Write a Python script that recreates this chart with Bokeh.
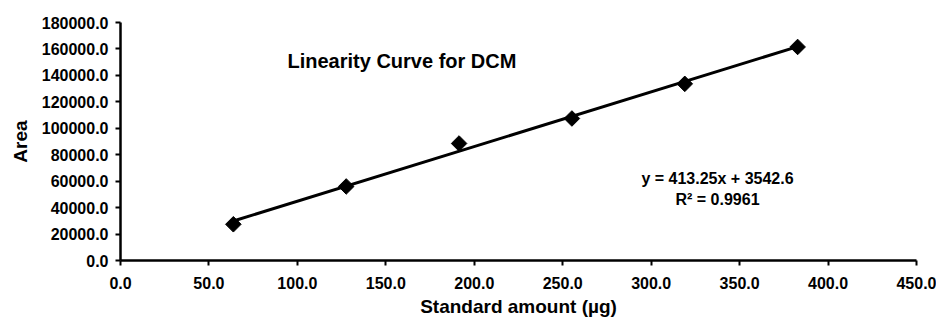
import numpy as np
from bokeh.plotting import figure
from bokeh.models import Range1d, SingleIntervalTicker, NumeralTickFormatter, Label, ColumnDataSource
from bokeh.embed import file_html
from bokeh.resources import INLINE

# ---- data ----
standard_amount = [63.8, 127.6, 191.4, 255.2, 319.0, 382.8]
area = [27400, 56000, 88500, 107400, 133600, 161500]
slope = 413.25
intercept = 3542.6
equation_text = "y = 413.25x + 3542.6"
r2_text = "R² = 0.9961"
title_text = "Linearity Curve for DCM"
x_title = "Standard amount (µg)"
y_title = "Area"

FONT = "Liberation Sans"

p = figure(width=936, height=320, output_backend="svg", toolbar_location=None,
           x_range=Range1d(0, 450), y_range=Range1d(0, 180000),
           min_border_left=120, min_border_right=20, min_border_top=22, min_border_bottom=60)
p.outline_line_color = None
p.xgrid.visible = False
p.ygrid.visible = False
p.background_fill_color = "white"
p.border_fill_color = "white"

# trendline over the data range
tx = [min(standard_amount), max(standard_amount)]
ty = [slope * v + intercept for v in tx]
p.line(tx, ty, line_color="black", line_width=3)

src = ColumnDataSource(dict(x=standard_amount, y=area))
p.scatter("x", "y", source=src, marker="square", size=11, angle=np.pi / 4,
          fill_color="black", line_color="black")

for ax in (p.xaxis[0], p.yaxis[0]):
    ax.axis_line_width = 2.5
    ax.axis_line_color = "black"
    ax.major_tick_line_width = 2
    ax.major_tick_line_color = "black"
    ax.major_tick_in = 0
    ax.major_tick_out = 5
    ax.minor_tick_line_color = None
    ax.major_label_text_font = FONT
    ax.major_label_text_font_style = "bold"
    ax.major_label_text_font_size = "16px"
    ax.major_label_text_color = "black"
    ax.axis_label_text_font = FONT
    ax.axis_label_text_font_style = "bold"
    ax.axis_label_text_font_size = "19px"
    ax.axis_label_text_color = "black"
    ax.formatter = NumeralTickFormatter(format="0.0")

p.xaxis.ticker = SingleIntervalTicker(interval=50)
p.yaxis.ticker = SingleIntervalTicker(interval=20000)
p.xaxis.axis_label = x_title
p.yaxis.axis_label = y_title
p.xaxis.major_label_standoff = 11
p.yaxis.major_label_standoff = 7
p.xaxis.axis_label_standoff = 4
p.yaxis.axis_label_standoff = 8

p.add_layout(Label(x=94.4, y=151260, text=title_text, text_font=FONT, text_font_style="bold",
                   text_font_size="20px", text_baseline="alphabetic", text_align="left",
                   text_color="black"))
p.add_layout(Label(x=337.5, y=61790, text=equation_text, text_font=FONT, text_font_style="bold",
                   text_font_size="16px", text_baseline="alphabetic", text_align="center",
                   text_color="black"))
p.add_layout(Label(x=337.5, y=45900, text=r2_text, text_font=FONT, text_font_style="bold",
                   text_font_size="16px", text_baseline="alphabetic", text_align="center",
                   text_color="black"))

open("out.html", "w").write(file_html(p, INLINE))
